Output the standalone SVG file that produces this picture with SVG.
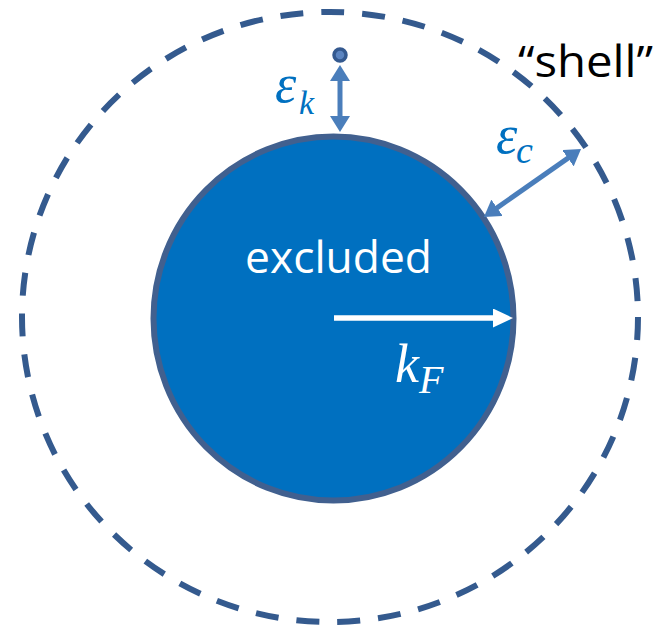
<svg xmlns="http://www.w3.org/2000/svg" width="668" height="627" viewBox="0 0 668 627">
<style>
.shell{fill:none;stroke:#345a8e;stroke-width:6;stroke-dasharray:23 18}
.core{fill:#0070c0;stroke:#41608f;stroke-width:6}
.barrow{stroke:#4a7ebb;stroke-width:5;fill:none}
.warrow{stroke:#ffffff;stroke-width:5.5;fill:none}
.math{font-family:"Liberation Serif","DejaVu Serif",serif;font-style:italic}
.lbl{font-family:"Open Sans","Liberation Sans",sans-serif}
</style>
<defs>
<marker id="bhead" viewBox="0 0 16 20" markerWidth="16" markerHeight="20" refX="4" refY="10" orient="auto-start-reverse" markerUnits="userSpaceOnUse">
<path d="M0,0 L16,10 L0,20 z" fill="#4a7ebb"/>
</marker>
<marker id="whead" viewBox="0 0 20 19" markerWidth="20" markerHeight="19" refX="6" refY="9.5" orient="auto" markerUnits="userSpaceOnUse">
<path d="M0,0 L20,9.5 L0,19 z" fill="#ffffff"/>
</marker>
</defs>
<g id="shell">
<ellipse class="shell" cx="330" cy="317" rx="308" ry="305"/>
</g>
<g id="excluded">
<ellipse class="core" cx="333.5" cy="318.5" rx="180" ry="182"/>
<text class="lbl" x="245" y="273" font-size="43" fill="#ffffff" textLength="187" lengthAdjust="spacingAndGlyphs">excluded</text>
</g>
<g id="particle">
<circle cx="340" cy="55" r="6" fill="#5b84c0" stroke="#34598f" stroke-width="3.5"/>
</g>
<g id="connectors">
<line class="barrow" x1="340" y1="77" x2="340" y2="120" marker-start="url(#bhead)" marker-end="url(#bhead)"/>
<line class="barrow" x1="493.8" y1="210.1" x2="571.2" y2="155.9" marker-start="url(#bhead)" marker-end="url(#bhead)"/>
<line class="warrow" x1="334" y1="318" x2="499" y2="318" marker-end="url(#whead)"/>
</g>
<g id="labels">
<text class="math" fill="#0070c0"><tspan x="275" y="102" font-size="54">ε</tspan><tspan x="299" y="114" font-size="34">k</tspan></text>
<text class="math" fill="#0070c0"><tspan x="496" y="153" font-size="54">ε</tspan><tspan x="516" y="163" font-size="38">c</tspan></text>
<text class="math" fill="#ffffff"><tspan x="395" y="382" font-size="54">k</tspan><tspan x="419" y="393" font-size="40">F</tspan></text>
<text class="lbl" x="518" y="77" font-size="43" fill="#000000" textLength="135" lengthAdjust="spacingAndGlyphs">“shell”</text>
</g>
</svg>
